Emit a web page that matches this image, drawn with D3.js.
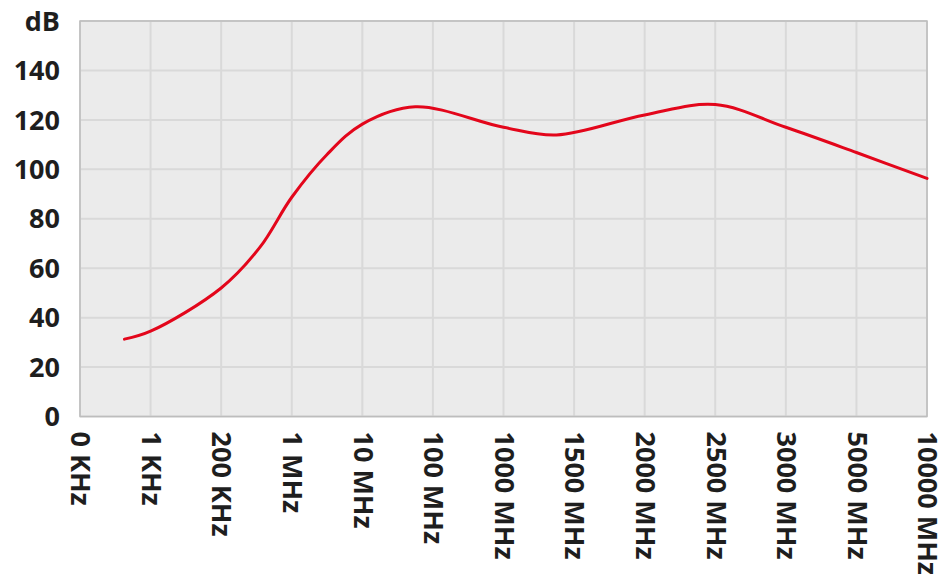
<!DOCTYPE html>
<html>
<head>
<meta charset="utf-8">
<script src="https://cdn.jsdelivr.net/npm/d3@7"></script>
<style>
  body { margin: 0; background: #fff; }
  text { font-family: "Open Sans", sans-serif; font-weight: 700; fill: #1e1e1e; }
</style>
</head>
<body>
<script>
var w = 940;
var h = 581;

// category labels along the bottom
var freqLabels = ["0 KHz", "1 KHz", "200 KHz", "1 MHz", "10 MHz", "100 MHz", "1000 MHz",
                  "1500 MHz", "2000 MHz", "2500 MHz", "3000 MHz", "5000 MHz", "10000 MHz"];
// curve position (in category steps) and dB value
var curveX = [0.63, 1, 2, 2.55, 3, 3.5, 4, 4.75, 6, 6.75, 8, 9, 10, 11, 12];
var curveDb = [31.3, 34.5, 52, 68.5, 88.7, 106, 118.3, 125.3, 117, 113.9, 122, 126.2, 117, 106.8, 96.3];
var dbTicks = [0, 20, 40, 60, 80, 100, 120, 140, 160];

var margin = {left: 80, right: 13, top: 21, bottom: 164.5};

var svg = d3.select("body").append("svg")
    .attr("width", w)
    .attr("height", h);

var x = d3.scaleLinear()
    .domain([0, freqLabels.length - 1])
    .range([margin.left, w - margin.right]);

var y = d3.scaleLinear()
    .domain([0, 160])
    .range([h - margin.bottom, margin.top]);

// plot background
svg.append("rect")
    .attr("x", x(0))
    .attr("y", y(160))
    .attr("width", x(12) - x(0))
    .attr("height", y(0) - y(160))
    .attr("fill", "#ebebeb");

// grid
svg.selectAll(".vgrid")
    .data(d3.range(freqLabels.length))
    .enter().append("line")
    .attr("x1", function(d){ return x(d); })
    .attr("x2", function(d){ return x(d); })
    .attr("y1", y(0))
    .attr("y2", y(160))
    .attr("stroke", "#d9d9d9")
    .attr("stroke-width", 2);

svg.selectAll(".hgrid")
    .data(dbTicks)
    .enter().append("line")
    .attr("x1", x(0))
    .attr("x2", x(12))
    .attr("y1", function(d){ return y(d); })
    .attr("y2", function(d){ return y(d); })
    .attr("stroke", "#d9d9d9")
    .attr("stroke-width", 2);

// outline
svg.append("rect")
    .attr("x", x(0))
    .attr("y", y(160))
    .attr("width", x(12) - x(0))
    .attr("height", y(0) - y(160))
    .attr("fill", "none")
    .attr("stroke", "#bdbdbd")
    .attr("stroke-width", 1.5);

// y labels, top one is the unit
svg.selectAll(".ylab")
    .data(dbTicks)
    .enter().append("text")
    .attr("x", 60)
    .attr("y", function(d){ return y(d); })
    .attr("dy", "0.36em")
    .attr("text-anchor", "end")
    .style("font-size", "27px")
    .text(function(d){ return d === 160 ? "dB" : d; });

// x labels rotated
svg.selectAll(".xlab")
    .data(freqLabels)
    .enter().append("text")
    .attr("transform", function(d, i){ return "translate(" + (x(i) + 1) + "," + (y(0) + 15) + ") rotate(90)"; })
    .attr("dy", "0.36em")
    .style("font-size", "27px")
    .text(function(d){ return d; });

// response curve
var pts = curveX.map(function(v, i){ return [v, curveDb[i]]; });
var line = d3.line()
    .x(function(d){ return x(d[0]); })
    .y(function(d){ return y(d[1]); })
    .curve(d3.curveCatmullRom.alpha(0.5));

svg.append("path")
    .datum(pts)
    .attr("d", line)
    .attr("fill", "none")
    .attr("stroke", "#e3061b")
    .attr("stroke-width", 3)
    .attr("stroke-linecap", "round");
</script>
</body>
</html>
